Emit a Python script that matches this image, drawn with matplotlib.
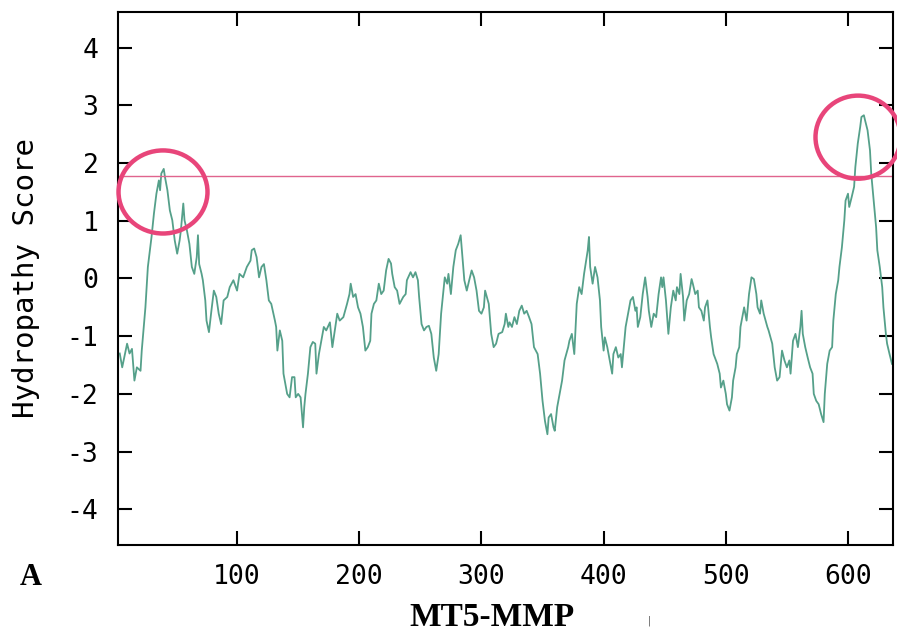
import matplotlib
matplotlib.use('Agg')
import matplotlib.pyplot as plt
from matplotlib.patches import Ellipse

# Hydropathy profile (residue, score)
residue = [
    4, 6, 10, 12, 14, 16, 18, 21, 22, 25, 27, 30, 32, 34, 36, 37, 38, 40, 41, 43,
    45, 47, 49, 51, 53, 54, 56, 57, 59, 61, 63, 65, 67, 68, 69, 71, 72, 74, 75, 77,
    79, 81, 83, 85, 87, 89, 92, 94, 97, 100, 102, 105, 108, 111, 112, 114, 116, 118, 120, 122,
    124, 126, 128, 131, 132, 133, 135, 137, 138, 141, 143, 145, 147, 148, 150, 152, 154, 155, 156, 158,
    160, 162, 164, 165, 167, 169, 171, 173, 176, 178, 180, 182, 184, 187, 190, 192, 193, 195, 197, 199,
    201, 203, 205, 207, 209, 210, 212, 214, 216, 218, 220, 222, 224, 226, 227, 229, 231, 233, 236, 238,
    239, 242, 244, 246, 248, 249, 251, 253, 255, 257, 259, 261, 263, 265, 267, 270, 272, 273, 275, 277,
    279, 281, 283, 284, 286, 288, 290, 292, 294, 296, 298, 300, 302, 303, 306, 308, 310, 312, 314, 317,
    319, 320, 322, 323, 325, 327, 329, 331, 333, 335, 337, 339, 341, 343, 346, 348, 350, 352, 354, 355,
    357, 359, 360, 362, 364, 366, 368, 371, 372, 374, 376, 378, 380, 382, 384, 387, 388, 389, 391, 393,
    395, 397, 398, 400, 401, 403, 405, 407, 408, 410, 412, 414, 415, 417, 418, 420, 422, 424, 426, 427,
    428, 430, 432, 434, 436, 437, 439, 441, 443, 445, 447, 448, 449, 451, 453, 455, 457, 459, 460, 462,
    463, 465, 466, 468, 470, 472, 473, 475, 477, 478, 480, 482, 483, 485, 487, 488, 490, 493, 495, 496,
    498, 500, 501, 503, 505, 506, 508, 509, 511, 512, 514, 515, 517, 519, 521, 523, 525, 526, 528, 529,
    531, 534, 535, 538, 540, 542, 544, 546, 548, 550, 552, 553, 555, 557, 559, 561, 562, 563, 565, 567,
    569, 571, 572, 574, 576, 578, 580, 581, 583, 585, 587, 588, 590, 592, 593, 595, 597, 598, 600, 601,
    603, 605, 606, 608, 610, 611, 613, 614, 616, 618, 619, 621, 623, 624, 626, 628, 629, 631, 632, 634,
    636,
]
score = [
    -1.30, -1.54, -1.13, -1.30, -1.22, -1.77, -1.54, -1.60, -1.25, -0.50, 0.20, 0.72, 1.13, 1.47, 1.70, 1.53, 1.82, 1.90, 1.76, 1.53,
    1.18, 1.01, 0.66, 0.43, 0.66, 0.83, 1.30, 1.01, 0.83, 0.60, 0.20, 0.08, 0.37, 0.75, 0.25, 0.08, -0.03, -0.38, -0.73, -0.93,
    -0.56, -0.21, -0.32, -0.61, -0.79, -0.38, -0.32, -0.15, -0.03, -0.21, 0.08, 0.02, 0.20, 0.31, 0.49, 0.52, 0.37, 0.02, 0.20, 0.25,
    -0.03, -0.38, -0.44, -0.73, -0.84, -1.25, -0.90, -1.08, -1.65, -2.00, -2.06, -1.71, -1.71, -2.06, -2.00, -2.06, -2.58, -2.23, -2.00, -1.65,
    -1.19, -1.10, -1.13, -1.65, -1.31, -1.08, -0.84, -0.90, -0.76, -1.19, -0.90, -0.61, -0.73, -0.67, -0.44, -0.27, -0.09, -0.32, -0.27, -0.50,
    -0.61, -0.84, -1.25, -1.19, -1.08, -0.61, -0.44, -0.38, -0.09, -0.27, -0.21, 0.14, 0.34, 0.26, 0.08, -0.15, -0.21, -0.44, -0.32, -0.27,
    -0.03, 0.11, 0.02, 0.11, -0.03, -0.32, -0.79, -0.90, -0.84, -0.82, -0.96, -1.37, -1.60, -1.31, -0.61, 0.02, -0.09, 0.08, -0.27, 0.20,
    0.49, 0.60, 0.75, 0.49, -0.03, -0.21, -0.03, 0.14, 0.02, -0.21, -0.56, -0.61, -0.50, -0.21, -0.44, -0.96, -1.19, -1.13, -0.96, -0.93,
    -0.79, -0.61, -0.84, -0.76, -0.84, -0.67, -0.79, -0.56, -0.47, -0.61, -0.56, -0.67, -0.79, -1.19, -1.31, -1.65, -2.12, -2.47, -2.70, -2.41,
    -2.35, -2.58, -2.64, -2.23, -2.00, -1.77, -1.42, -1.19, -1.08, -0.96, -1.31, -0.44, -0.15, -0.27, 0.08, 0.49, 0.72, 0.20, -0.09, 0.20,
    0.02, -0.38, -0.84, -1.25, -1.02, -1.19, -1.42, -1.65, -1.31, -1.19, -1.37, -1.31, -1.54, -1.08, -0.84, -0.61, -0.38, -0.32, -0.56, -0.50,
    -0.84, -0.67, -0.27, 0.02, -0.32, -0.56, -0.84, -0.61, -0.67, -0.27, 0.02, -0.15, 0.02, -0.38, -0.96, -0.50, -0.21, -0.38, -0.15, -0.27,
    0.08, -0.32, -0.73, -0.38, -0.27, -0.01, -0.09, -0.27, -0.21, -0.50, -0.56, -0.73, -0.50, -0.38, -0.84, -1.02, -1.31, -1.48, -1.65, -1.89,
    -1.77, -2.00, -2.18, -2.29, -2.06, -1.77, -1.54, -1.31, -1.19, -0.84, -0.61, -0.50, -0.73, -0.27, 0.02, -0.01, -0.27, -0.50, -0.61, -0.38,
    -0.61, -0.84, -0.90, -1.13, -1.54, -1.77, -1.71, -1.25, -1.42, -1.54, -1.42, -1.65, -1.08, -0.96, -1.19, -0.84, -0.56, -0.96, -1.19, -1.37,
    -1.54, -1.65, -2.00, -2.12, -2.18, -2.35, -2.49, -2.00, -1.48, -1.25, -1.19, -0.73, -0.27, -0.03, 0.20, 0.54, 1.01, 1.35, 1.47, 1.24,
    1.41, 1.59, 1.93, 2.34, 2.63, 2.80, 2.83, 2.74, 2.57, 2.22, 1.82, 1.35, 0.89, 0.49, 0.20, -0.15, -0.50, -0.96, -1.13, -1.31,
    -1.48,
]
threshold = 1.78

xticks = [100, 200, 300, 400, 500, 600]
xtick_labels = ['100', '200', '300', '400', '500', '600']
yticks = [-4, -3, -2, -1, 0, 1, 2, 3, 4]
ytick_labels = ['-4', '-3', '-2', '-1', '0', '1', '2', '3', '4']

mono = 'DejaVu Sans Mono'
serif = 'Liberation Serif'

fig = plt.figure(figsize=(8.97, 6.37), dpi=100)
ax = fig.add_axes([0.1316, 0.1444, 0.8639, 0.8368])

ax.plot(residue, score, color='#55a08a', lw=1.3)
ax.axhline(threshold, color='#e0648e', lw=1.0)

# hand drawn circles marking the peaks above threshold
for cx, cy, w, h in [(39.4, 1.50, 72.8, 1.44), (608.2, 2.45, 69.6, 1.44)]:
    ax.add_patch(Ellipse((cx, cy), w, h, fill=False, ec='#e8457a', lw=3.2, clip_on=False, zorder=5))

ax.set_xlim(2.6, 636.8)
ax.set_ylim(-4.62, 4.62)
ax.set_xticks(xticks)
ax.set_xticklabels(xtick_labels, fontfamily=mono, fontsize=19)
ax.set_yticks(yticks)
ax.set_yticklabels(ytick_labels, fontfamily=mono, fontsize=19)
ax.tick_params(direction='in', length=10, width=1.5, top=True, right=True, pad=14)
for s in ax.spines.values():
    s.set_linewidth(1.5)

ax.set_ylabel('Hydropathy Score', fontfamily=mono, fontsize=21, labelpad=19)

fig.text(0.022, 0.093, 'A', fontfamily=serif, fontweight='bold', fontsize=22, va='center')
fig.text(0.548, 0.03, 'MT5-MMP', fontfamily=serif, fontweight='bold', fontsize=24, ha='center', va='center')
fig.text(0.724, 0.025, '|', fontsize=7, color='#555555', ha='center', va='center')

fig.savefig('out.png', dpi=100)
